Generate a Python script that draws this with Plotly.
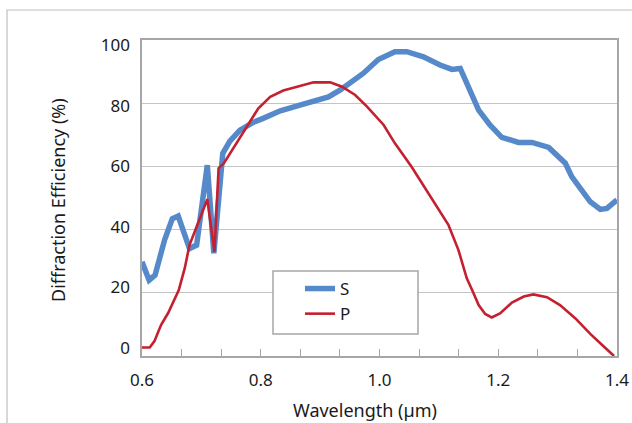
import plotly.graph_objects as go

# S polarisation (blue)
s_wavelength = [0.600, 0.612, 0.622, 0.638, 0.651, 0.661, 0.680, 0.692, 0.710, 0.721,
                0.736, 0.748, 0.765, 0.788, 0.804, 0.833, 0.866, 0.894, 0.914, 0.934,
                0.951, 0.973, 0.998, 1.010, 1.026, 1.046, 1.074, 1.102, 1.122, 1.136,
                1.153, 1.167, 1.186, 1.206, 1.234, 1.257, 1.285, 1.313, 1.324, 1.355,
                1.372, 1.383, 1.400]
s_efficiency = [29.8, 24.0, 25.6, 36.7, 43.4, 44.3, 34.0, 35.1, 60.4, 32.5,
                64.1, 68.0, 71.5, 74.0, 75.2, 77.6, 79.4, 80.8, 82.0, 84.2,
                86.3, 89.5, 93.8, 94.9, 96.3, 96.3, 94.7, 92.1, 90.7, 91.0,
                84.2, 77.8, 73.1, 69.2, 67.6, 67.6, 66.0, 61.0, 56.7, 48.8,
                46.4, 46.7, 49.4]

# P polarisation (red)
p_wavelength = [0.600, 0.613, 0.621, 0.632, 0.644, 0.662, 0.672, 0.680, 0.692, 0.710,
                0.722, 0.729, 0.738, 0.762, 0.782, 0.796, 0.816, 0.838, 0.866, 0.889,
                0.917, 0.937, 0.959, 0.979, 1.007, 1.026, 1.054, 1.085, 1.099, 1.116,
                1.133, 1.147, 1.156, 1.167, 1.178, 1.189, 1.203, 1.223, 1.243, 1.259,
                1.282, 1.304, 1.330, 1.355, 1.375, 1.395]
p_efficiency = [2.7, 2.7, 4.7, 9.8, 13.6, 20.9, 27.8, 35.1, 40.9, 49.6,
                33.0, 59.4, 61.0, 68.4, 74.2, 78.4, 82.0, 84.0, 85.4, 86.6,
                86.6, 85.2, 82.6, 78.9, 73.1, 67.3, 59.9, 50.9, 46.7, 41.5,
                33.5, 24.6, 20.9, 16.1, 13.3, 12.2, 13.5, 16.9, 18.8, 19.5,
                18.6, 16.1, 11.9, 7.0, 3.5, 0.0]

x_ticks = [0.6, 0.8, 1.0, 1.2, 1.4]
x_ticktext = ["0.6", "0.8", "1.0", "1.2", "1.4"]
y_ticks = [0, 20, 40, 60, 80, 100]

FONT = "Noto Sans"
AXIS_GREY = "#A6A6A6"
GRID_GREY = "#C4C4C4"
PLOT_W = 475.0
PLOT_H = 316.0
PLOT_L = 142.0
PLOT_B = 356.0


def px_x(px):
    return (px - PLOT_L) / PLOT_W


def px_y(py):
    return (PLOT_B - py) / PLOT_H


fig = go.Figure()
fig.add_trace(go.Scatter(x=s_wavelength, y=s_efficiency, mode="lines", name="S",
                         line=dict(color="#5689C9", width=5.5)))
fig.add_trace(go.Scatter(x=p_wavelength, y=p_efficiency, mode="lines", name="P",
                         line=dict(color="#C4202F", width=2.6)))
# invisible helper so the label axis renders
fig.add_trace(go.Scatter(x=[None], y=[None], yaxis="y2", showlegend=False,
                         hoverinfo="skip"))

fig.update_layout(
    width=632, height=423,
    margin=dict(l=142, r=15, t=40, b=67, autoexpand=False),
    paper_bgcolor="white", plot_bgcolor="white",
    font=dict(family=FONT, size=17, color="#1a1a1a"),
    xaxis=dict(range=[0.6, 1.4], tickvals=x_ticks, ticktext=x_ticktext,
               ticks="inside", ticklen=7, tickcolor=AXIS_GREY, tickwidth=1,
               minor=dict(tick0=0.6, dtick=0.8 / 12, ticks="inside", ticklen=7,
                          tickcolor=AXIS_GREY, tickwidth=1, showgrid=False),
               showgrid=False, zeroline=False, showline=True, linecolor=AXIS_GREY,
               linewidth=1.5, mirror=True, ticklabelstandoff=8, automargin=False,
               tickfont=dict(size=17)),
    yaxis=dict(range=[0, 100], tickvals=y_ticks, showticklabels=False,
               showgrid=True, gridcolor=GRID_GREY, gridwidth=1.2,
               zeroline=False, showline=True, linecolor=AXIS_GREY, linewidth=1.5,
               mirror=True, ticks="", automargin=False),
    yaxis2=dict(overlaying="y", side="left", range=[-2.64, 101.65], tickvals=y_ticks,
                showgrid=False, zeroline=False, showline=False, ticks="",
                ticklabelstandoff=11, automargin=False, tickfont=dict(size=17)),
    showlegend=True,
    legend=dict(x=px_x(300), y=px_y(271), xanchor="left", yanchor="top",
                bgcolor="rgba(0,0,0,0)", borderwidth=0,
                font=dict(size=17), tracegroupgap=0),
)

# legend frame
fig.add_shape(type="rect", xref="paper", yref="paper",
              x0=px_x(273), x1=px_x(418), y0=px_y(334), y1=px_y(271),
              line=dict(color=AXIS_GREY, width=1.5), fillcolor="white",
              layer="above")

fig.add_annotation(text="Diffraction Efficiency (%)", xref="paper", yref="paper",
                   x=px_x(58), y=px_y(200), textangle=-90,
                   showarrow=False, font=dict(size=18, family=FONT, color="#1a1a1a"),
                   xanchor="center", yanchor="middle")
fig.add_annotation(text="Wavelength (µm)", xref="paper", yref="paper",
                   x=px_x(365), y=px_y(410),
                   showarrow=False, font=dict(size=18, family=FONT, color="#1a1a1a"),
                   xanchor="center", yanchor="middle")

# outer chart-area frame
fig.add_shape(type="rect", xref="paper", yref="paper",
              x0=px_x(7), x1=1.2, y0=-0.3, y1=px_y(10),
              line=dict(color="#BFBFBF", width=1.2), fillcolor="rgba(0,0,0,0)",
              layer="below")

fig.write_html("out.html",
               config={"displayModeBar": False},
               post_script="document.body.style.margin='0';document.body.style.overflow='hidden';")
